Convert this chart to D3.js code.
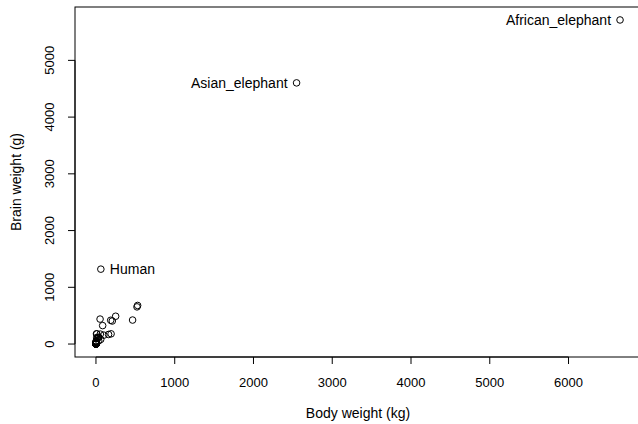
<!DOCTYPE html>
<html>
<head>
<meta charset="utf-8">
<script src="https://cdn.jsdelivr.net/npm/d3@7"></script>
<style>
  body { margin: 0; background: #fff; }
  text { font-family: "Liberation Sans", Arial, sans-serif; }
</style>
</head>
<body>
<div id="chart"></div>
<script>
// MASS::mammals, body weight (kg) and brain weight (g)
const names = ["Arctic_fox","Owl_monkey","Mountain_beaver","Cow","Grey_wolf","Goat","Roe_deer","Guinea_pig","Verbet","Chinchilla",
  "Ground_squirrel","Arctic_ground_squirrel","African_giant_pouched_rat","Lesser_short-tailed_shrew","Star-nosed_mole",
  "Nine-banded_armadillo","Tree_hyrax","N.A._opossum","Asian_elephant","Big_brown_bat","Donkey","Horse","European_hedgehog",
  "Patas_monkey","Cat","Galago","Genet","Giraffe","Gorilla","Grey_seal","Rock_hyrax-a","Human","African_elephant",
  "Water_opossum","Rhesus_monkey","Kangaroo","Yellow-bellied_marmot","Golden_hamster","Mouse","Little_brown_bat",
  "Slow_loris","Okapi","Rabbit","Sheep","Jaguar","Chimpanzee","Baboon","Desert_hedgehog","Giant_armadillo","Rock_hyrax-b",
  "Raccoon","Rat","E._American_mole","Mole_rat","Musk_shrew","Pig","Echidna","Brazilian_tapir","Tenrec","Phalanger",
  "Tree_shrew","Red_fox"];
const body = [3.385,0.48,1.35,465,36.33,27.66,14.83,1.04,4.19,0.425,0.101,0.92,1,0.005,0.06,3.5,2,1.7,2547,0.023,187.1,
  521,0.785,10,3.3,0.2,1.41,529,207,85,0.75,62,6654,3.5,6.8,35,4.05,0.12,0.023,0.01,1.4,250,2.5,55.5,100,52.16,10.55,
  0.55,60,3.6,4.288,0.28,0.075,0.122,0.048,192,3,160,0.9,1.62,0.104,4.235];
const brain = [44.5,15.5,8.1,423,119.5,115,98.2,5.5,58,6.4,4,5.7,6.6,0.14,1,10.8,12.3,6.3,4603,0.3,419,655,3.5,115,25.6,
  5,17.5,680,406,325,12.3,1320,5712,3.9,179,56,17,1,0.4,0.25,12.5,490,12.1,175,157,440,179.5,2.4,81,21,39.2,1.9,1.2,
  3,0.33,180,25,169,2.6,11.4,2.5,50.4];
const labelled = ["Asian_elephant", "African_elephant", "Human"];
const xTicks = [0, 1000, 2000, 3000, 4000, 5000, 6000];
const yTicks = [0, 1000, 2000, 3000, 4000, 5000];

const width = 638, height = 424;
const margin = {left: 75, right: -3, top: 7, bottom: 67};

// R style 4% extension of the data range
function rRange(v){
  let lo = d3.min(v), hi = d3.max(v), d = (hi - lo) * 0.04;
  return [lo - d, hi + d];
}

const x = d3.scaleLinear().domain(rRange(body)).range([margin.left, width - margin.right]);
const y = d3.scaleLinear().domain(rRange(brain)).range([height - margin.bottom, margin.top]);

const svg = d3.select("#chart").append("svg")
  .attr("width", width).attr("height", height);

const x0 = margin.left, x1 = width - margin.right, y0 = height - margin.bottom, y1 = margin.top;

svg.append("rect")
  .attr("x", x0).attr("y", y1)
  .attr("width", x1 - x0).attr("height", y0 - y1)
  .attr("fill", "none").attr("stroke", "#000").attr("stroke-width", 1);

// x axis (R style: line only between first and last tick)
const gx = svg.append("g").attr("transform", `translate(0,${y0})`);
gx.append("line").attr("x1", x(xTicks[0])).attr("x2", x(xTicks[xTicks.length-1]))
  .attr("y1", 0).attr("y2", 0).attr("stroke", "#000");
xTicks.forEach(t => {
  gx.append("line").attr("x1", x(t)).attr("x2", x(t)).attr("y1", 0).attr("y2", 7).attr("stroke", "#000");
  gx.append("text").attr("x", x(t)).attr("y", 30).attr("text-anchor", "middle")
    .attr("font-size", 13).text(t);
});

const gy = svg.append("g").attr("transform", `translate(${x0},0)`);
gy.append("line").attr("y1", y(yTicks[0])).attr("y2", y(yTicks[yTicks.length-1]))
  .attr("x1", 0).attr("x2", 0).attr("stroke", "#000");
yTicks.forEach(t => {
  gy.append("line").attr("y1", y(t)).attr("y2", y(t)).attr("x1", 0).attr("x2", -7).attr("stroke", "#000");
  gy.append("text").attr("transform", `translate(-21,${y(t)}) rotate(-90)`)
    .attr("text-anchor", "middle").attr("font-size", 13).text(t);
});

svg.append("text").attr("x", (x0 + 641) / 2).attr("y", 418)
  .attr("text-anchor", "middle").attr("font-size", 14).text("Body weight (kg)");
svg.append("text").attr("transform", `translate(21,${(y0 + y1) / 2}) rotate(-90)`)
  .attr("text-anchor", "middle").attr("font-size", 14).text("Brain weight (g)");

const pts = body.map((b, i) => ({name: names[i], body: b, brain: brain[i]}));

svg.append("g").selectAll("circle").data(pts).join("circle")
  .attr("cx", d => x(d.body)).attr("cy", d => y(d.brain)).attr("r", 3.3)
  .attr("fill", "none").attr("stroke", "#000").attr("stroke-width", 1);

// labels: Human to the right, elephants to the left
svg.append("g").selectAll("text").data(pts.filter(d => labelled.includes(d.name))).join("text")
  .attr("x", d => d.name === "Human" ? x(d.body) + 9 : x(d.body) - 9)
  .attr("y", d => y(d.brain) + 5)
  .attr("text-anchor", d => d.name === "Human" ? "start" : "end")
  .attr("font-size", 14).text(d => d.name);
</script>
</body>
</html>
